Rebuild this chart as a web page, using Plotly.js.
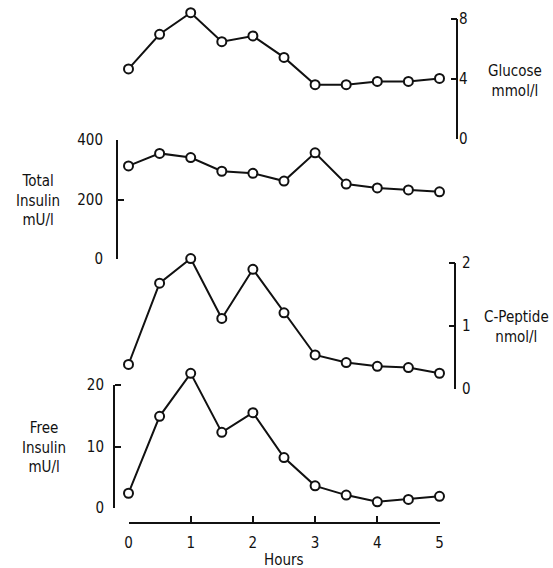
<!DOCTYPE html>
<html>
<head>
<meta charset="utf-8">
<script src="https://cdn.plot.ly/plotly-3.0.1.min.js"></script>
<style>html,body{margin:0;padding:0;background:#fff;}#chart{width:553px;height:568px;}</style>
</head>
<body>
<div id="chart"></div>
<script>
// Data
const hours = [0, 0.5, 1, 1.5, 2, 2.5, 3, 3.5, 4, 4.5, 5];
const glucose = [4.67, 6.98, 8.42, 6.49, 6.87, 5.44, 3.62, 3.62, 3.84, 3.84, 4.04];
const totalInsulin = [313, 355, 341, 295, 288, 262, 357, 252, 239, 232, 226];
const cPeptide = [0.39, 1.68, 2.07, 1.12, 1.90, 1.21, 0.54, 0.42, 0.36, 0.34, 0.25];
const freeInsulin = [2.4, 14.9, 21.9, 12.3, 15.5, 8.2, 3.6, 2.1, 1.0, 1.4, 1.9];

const hourTicks = [0, 1, 2, 3, 4, 5];
const glucoseTicks = [0, 4, 8];
const totalInsulinTicks = [0, 200, 400];
const cPeptideTicks = [0, 1, 2];
const freeInsulinTicks = [0, 10, 20];

const INK = '#111';
const FONT = '"Liberation Sans Narrow", "DejaVu Sans Condensed", "Liberation Sans", sans-serif';
const W = 553, H = 568;

function series(y, axis) {
  return {
    x: hours, y: y, yaxis: axis, type: 'scatter', mode: 'lines+markers',
    cliponaxis: false, hoverinfo: 'skip',
    line: {color: INK, width: 2},
    marker: {symbol: 'circle', size: 9, color: '#fff', line: {color: INK, width: 2}}
  };
}

// y axis: zero at y0px, domain top at ytopPx, with pixels-per-unit from the labelled span
function yAxis(ticks, side, xpx, zeroPx, fullPx, topPx, standoff, line) {
  const max = ticks[ticks.length - 1];
  const ppu = (zeroPx - fullPx) / max;
  return {
    domain: [(H - zeroPx) / H, (H - topPx) / H],
    range: [0, (zeroPx - topPx) / ppu], tickmode: 'array', tickvals: ticks,
    side: side, anchor: 'free', position: xpx / W,
    showline: line, linecolor: INK, linewidth: 2,
    ticks: 'inside', ticklen: 6, tickwidth: 2, tickcolor: INK,
    ticklabelstandoff: standoff,
    showgrid: false, zeroline: false, fixedrange: true,
    tickfont: {family: FONT, size: 15, color: INK}
  };
}

function bracket(axisRef, ticks, xpx) {
  return {type: 'line', xref: 'paper', yref: axisRef, x0: xpx / W, x1: xpx / W,
    y0: ticks[0], y1: ticks[ticks.length - 1], line: {color: INK, width: 2}};
}

const data = [
  series(glucose, 'y'),
  series(totalInsulin, 'y2'),
  series(cPeptide, 'y3'),
  series(freeInsulin, 'y4')
];

const layout = {
  width: W, height: H,
  margin: {l: 0, r: 0, t: 0, b: 0},
  showlegend: false,
  paper_bgcolor: '#fff', plot_bgcolor: 'rgba(0,0,0,0)',
  font: {family: FONT, size: 15, color: INK},
  xaxis: {
    domain: [128.5 / W, 439.5 / W], range: [0, 5],
    anchor: 'free', position: (H - 522.7) / H,
    tickmode: 'array', tickvals: hourTicks,
    showline: true, linecolor: INK, linewidth: 2,
    ticks: 'inside', ticklen: 6, tickwidth: 2, tickcolor: INK,
    ticklabelstandoff: 6,
    showgrid: false, zeroline: false, fixedrange: true,
    tickfont: {family: FONT, size: 15, color: INK}
  },
  yaxis: yAxis(glucoseTicks, 'right', 457, 139, 19, 4, 1, false),
  yaxis2: yAxis(totalInsulinTicks, 'left', 117, 259, 140, 140, 10, true),
  yaxis3: yAxis(cPeptideTicks, 'right', 455, 389, 263, 250, 6, false),
  yaxis4: yAxis(freeInsulinTicks, 'left', 114, 508, 385, 365, 10, false),
  shapes: [
    bracket('y', glucoseTicks, 457),
    bracket('y3', cPeptideTicks, 455),
    bracket('y4', freeInsulinTicks, 114)
  ],
  annotations: [
    {text: 'Glucose<br>mmol/l', x: 515 / W, y: (H - 81) / H},
    {text: 'Total<br>Insulin<br>mU/l', x: 38 / W, y: (H - 200) / H},
    {text: 'C-Peptide<br>nmol/l', x: 516 / W, y: (H - 327) / H},
    {text: 'Free<br>Insulin<br>mU/l', x: 44 / W, y: (H - 447) / H},
    {text: 'Hours', x: 284 / W, y: (H - 560) / H}
  ].map(a => Object.assign({
    xref: 'paper', yref: 'paper', xanchor: 'center', yanchor: 'middle',
    showarrow: false, align: 'center',
    font: {family: FONT, size: 15, color: INK}
  }, a))
};

Plotly.newPlot('chart', data, layout, {displayModeBar: false});
</script>
</body>
</html>
